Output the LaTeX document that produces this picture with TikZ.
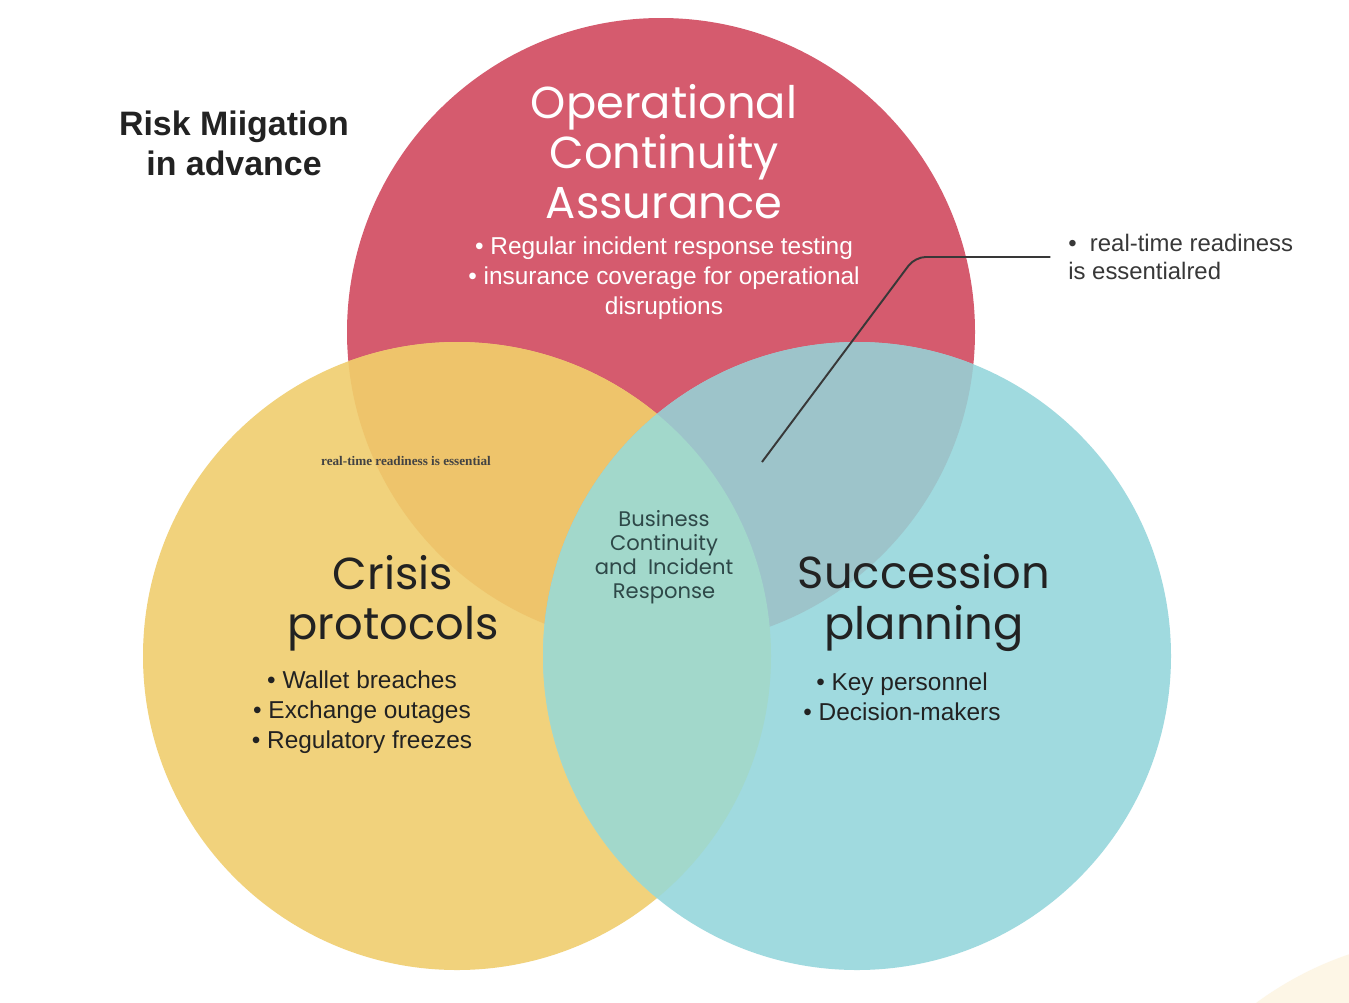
\documentclass[tikz,border=0pt]{standalone}
\usepackage{fontspec}
\setmainfont{Liberation Sans}
\newfontfamily\roundfont{Poppins}
\newfontfamily\tinyserif{Liberation Serif}
\usetikzlibrary{positioning}

\definecolor{vred}{HTML}{D55B6E}
\definecolor{vyellow}{HTML}{F1D27C}
\definecolor{vcyan}{HTML}{A0DADF}
\definecolor{vorange}{HTML}{EEC46B}
\definecolor{vslate}{HTML}{9DC4CA}
\definecolor{vmint}{HTML}{A2D8CB}
\definecolor{vcream}{HTML}{FDF6E6}
\definecolor{vink}{HTML}{222222}
\definecolor{vteal}{HTML}{2E4848}

\begin{document}
\begin{tikzpicture}[x=0.02cm,y=-0.02cm,
	bigtitle/.style={font=\roundfont\fontsize{25.5}{28.5}\selectfont, align=center, inner sep=1pt},
	bullets/.style={font=\fontsize{13.9}{17}\selectfont, align=center, inner sep=1pt},
	core/.style={font=\roundfont\fontsize{12}{13.6}\selectfont, align=center, text=vteal},
	callout/.style={draw=vink!90, line width=1.1pt, rounded corners=6pt}]
	\useasboundingbox (0,0) rectangle (1349,1002);
	\fill[white] (0,0) rectangle (1349,1002);
	
	% faint shape in the corner
	\fill[vcream] (1460,1280) circle (344);
	
	% the three circles
	\fill[vred] (661,332) circle (314);
	\fill[vyellow] (457,656) circle (314);
	\begin{scope}
		\clip (661,332) circle (314);
		\fill[vorange] (457,656) circle (314);
	\end{scope}
	\fill[vcyan] (857,656) circle (314);
	\begin{scope}
		\clip (661,332) circle (314);
		\fill[vslate] (857,656) circle (314);
	\end{scope}
	\begin{scope}
		\clip (457,656) circle (314);
		\fill[vmint] (857,656) circle (314);
	\end{scope}
	
	% heading
	\node[font=\bfseries\fontsize{19.3}{22.7}\selectfont, align=center, text=vink] (risk) at (234,143) {Risk Miigation\\in advance};
	
	% top circle
	\node[bigtitle, text=white] (ops) at (664,152) {Operational\\Continuity\\Assurance};
	\node[bullets, text=white] (opsitems) at (664,278) {\textbullet\ Regular incident response testing\\\textbullet\ insurance coverage for operational\\disruptions};
	
	% left circle
	\node[font=\tinyserif\bfseries\fontsize{7.5}{9}\selectfont, text=vink!85] (smallnote) at (406,461) {real-time readiness is essential};
	\node[bigtitle, text=vink] (crisis) at (393,603) {Crisis\\protocols};
	\node[bullets, text=vink] (crisisitems) at (362,712) {\textbullet\ Wallet breaches\\\textbullet\ Exchange outages\\\textbullet\ Regulatory freezes};
	
	% right circle
	\node[bigtitle, text=vink] (succ) at (924,603) {Succession\\planning};
	\node[bullets, text=vink] (succitems) at (902,697) {\textbullet\ Key personnel\\\textbullet\ Decision-makers};
	
	% centre
	\node[core] (centre) at (664,557) {Business\\Continuity\\and\ \ Incident\\Response};
	
	% callout
	\node[font=\fontsize{13.6}{16.4}\selectfont, align=left, text=vink!90, anchor=west, inner sep=0pt] (note) at (1068,257) {\textbullet\ \ real-time readiness\\is essentialred};
	\coordinate (tip) at (762,462);
	\coordinate (bend) at (915,257);
	\draw[callout] (tip) -- (bend) -- ([xshift=-10pt]note.west);
\end{tikzpicture}
\end{document}
